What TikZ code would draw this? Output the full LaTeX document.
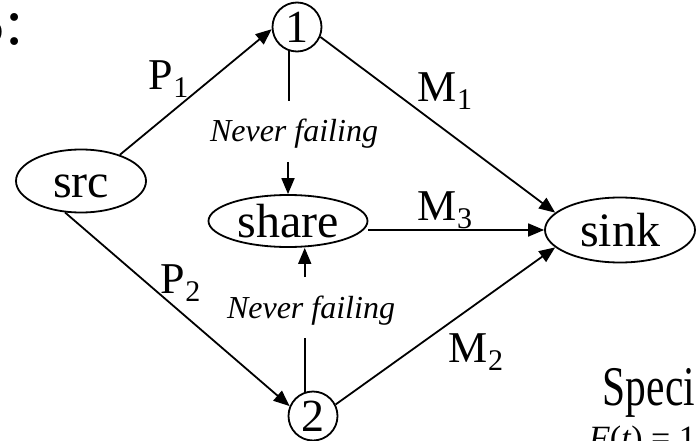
\documentclass[tikz,border=0pt]{standalone}
\usepackage{fontspec}
\setmainfont{Liberation Serif}
\usetikzlibrary{arrows.meta, shapes.geometric}

% lowered index for the path labels
\newcommand{\idx}[1]{\raisebox{-8pt}{\fontsize{30}{30}\selectfont #1}}

\begin{document}
\begin{tikzpicture}[x=1pt, y=-1pt, line width=1.8pt,
    oval/.style={ellipse, draw, inner sep=0pt, text height=33pt, text depth=0pt,
                 font=\fontsize{48}{48}\selectfont},
    vertex/.style={circle, draw, inner sep=0pt, minimum size=49pt,
                   font=\fontsize{46}{46}\selectfont},
    arr/.style={-{Triangle[length=16pt, width=13pt]}},
    lbl/.style={inner sep=0pt, anchor=base west, font=\fontsize{44}{44}\selectfont},
    note/.style={inner xsep=0pt, inner ysep=19pt, anchor=base, text height=21pt,
                 text depth=0pt, font=\fontsize{32}{32}\selectfont\itshape}]

    \useasboundingbox (0,0) rectangle (698,441);
    \clip (0,0) rectangle (698,441);

    % --- 1. NODES ---
    \node[oval, minimum width=130pt, minimum height=63pt] (src) at (81,181) {src};
    \node[oval, minimum width=159pt, minimum height=52pt] (share) at (288,221) {share};
    \node[oval, minimum width=150pt, minimum height=65pt] (sink) at (620,230) {sink};
    \node[vertex] (n1) at (297,27) {1};
    \node[vertex] (n2) at (313,416) {2};

    % --- 2. PATHS ---
    \draw[arr] (src.34) -- (n1.185);
    \draw[arr] (src.243) -- (n2.157);
    \draw[arr] (n1.337) -- (sink.165);
    \draw[arr] (n2.27) -- (sink.195);
    \draw[arr] (share.east |- sink.west) -- (sink.west);

    % --- 3. NEVER FAILING LINKS ---
    \node[note] (nf1) at (294,142) {Never failing};
    \node[note] (nf2) at (311,318) {Never failing};
    \draw (n1.251) -- (n1.251 |- nf1.north);
    \draw[arr] (share.north |- nf1.south) -- (share.north);
    \draw (n2.109) -- (n2.109 |- nf2.south);
    \draw[arr] (n2.109 |- nf2.north) -- (n2.109 |- share.south);

    % --- 4. LABELS ---
    \node[lbl] (p1) at (148,90) {P\idx{1}};
    \node[lbl] (p2) at (160,293) {P\idx{2}};
    \node[lbl] (m1) at (417,102) {M\idx{1}};
    \node[lbl] (m3) at (417,220) {M\idx{3}};
    \node[lbl] (m2) at (448,362) {M\idx{2}};

    % --- 5. SLIDE TEXT AT THE EDGES ---
    \node[inner sep=0pt, anchor=base east, font=\fontsize{66}{66}\selectfont] (ttl) at (25,45) {S:};
    \node[inner sep=0pt, anchor=base west, font=\fontsize{56}{56}\selectfont] (spec) at (602,405)
        {\scalebox{0.74}[1]{Speci}};
    \node[inner sep=0pt, anchor=base west, font=\fontsize{34}{34}\selectfont] (eq) at (588,449)
        {\textit{F}(\textit{t}) = 1};

\end{tikzpicture}
\end{document}
